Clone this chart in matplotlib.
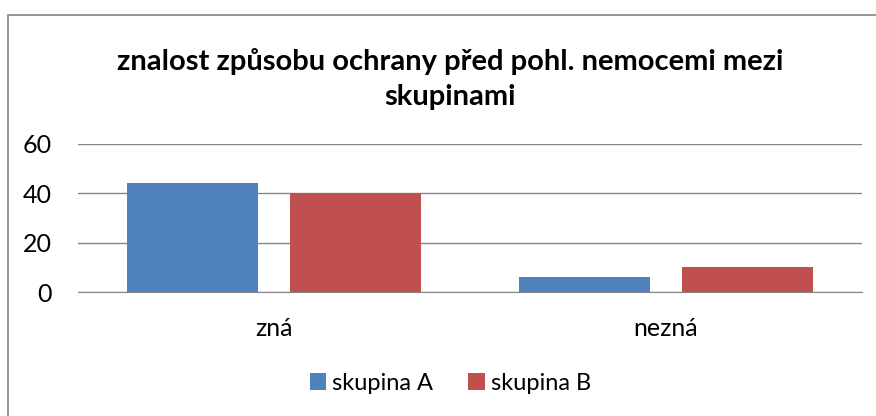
import matplotlib
matplotlib.use('agg')
import matplotlib.pyplot as plt
from matplotlib.patches import Rectangle
import numpy as np

categories = ['zná', 'nezná']
skupina_a = [44, 6]
skupina_b = [40, 10]
yticks = [0, 20, 40, 60]

plt.rcParams['font.family'] = ['Lato', 'DejaVu Sans']

fig = plt.figure(figsize=(8.76, 4.16), dpi=100)
ax = fig.add_axes([0.089, 0.298, 0.895, 0.356])

x = np.arange(len(categories))
w = 0.332
ax.bar(x - 0.208, skupina_a, w, color='#4F81BD', label='skupina A', zorder=3)
ax.bar(x + 0.208, skupina_b, w, color='#C0504D', label='skupina B', zorder=3)

ax.set_xlim(-0.5, 1.5)
ax.set_ylim(0, 60)
ax.set_yticks(yticks)
ax.set_xticks(x)
ax.set_xticklabels(categories)
ax.tick_params(axis='both', length=0, labelsize=18, colors='black')
ax.tick_params(axis='x', pad=18)
ax.tick_params(axis='y', pad=19)
ax.grid(axis='y', color='#868686', linewidth=1, zorder=0)
for s in ['top', 'right', 'left']:
    ax.spines[s].set_visible(False)
ax.spines['bottom'].set_color('#868686')

fig.text(0.514, 0.81, 'znalost způsobu ochrany před pohl. nemocemi mezi\nskupinami',
         ha='center', va='center', fontsize=21, fontweight='bold', linespacing=1.45)

fig.legend(loc='center', bbox_to_anchor=(0.514, 0.079), ncol=2, frameon=False,
           fontsize=17, handlelength=0.7, handleheight=0.7, handletextpad=0.25,
           columnspacing=1.5)

# chart frame (only top and left edges fall inside the image)
fig.patches.append(Rectangle((0.0097, -0.2), 1.2, 1.165, transform=fig.transFigure,
                             fill=False, edgecolor='#868686', linewidth=1.2))

plt.savefig('out.png')
